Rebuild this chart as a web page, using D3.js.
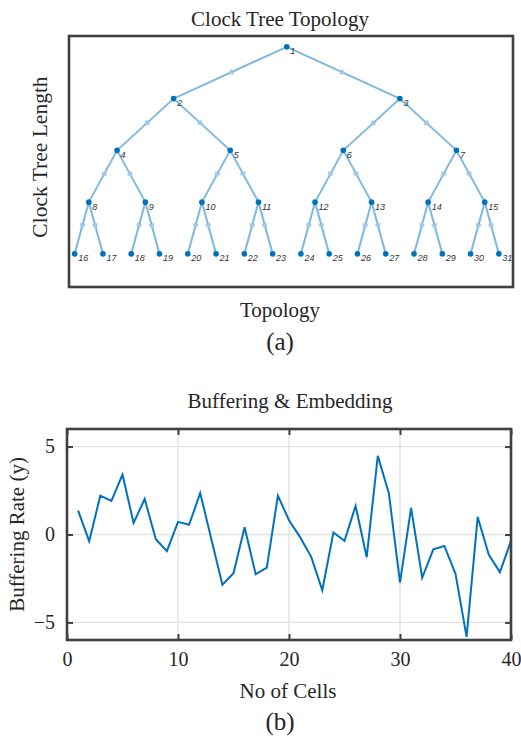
<!DOCTYPE html>
<html>
<head>
<meta charset="utf-8">
<script src="https://cdn.jsdelivr.net/npm/d3@7"></script>
<style>
  html, body { margin: 0; padding: 0; background: #fff; }
  svg { display: block; }
  .serif { font-family: "Liberation Serif", "Times New Roman", serif; fill: #262626; }
  .nodelab { font-family: "Liberation Sans", Arial, sans-serif; font-style: italic; fill: #333; }
</style>
</head>
<body>
<script>
// ---------------- DATA ----------------
// Tree (clock tree topology): node ids and their parents
const nodeIds   = [1,2,3,4,5,6,7,8,9,10,11,12,13,14,15,16,17,18,19,20,21,22,23,24,25,26,27,28,29,30,31];
const parentIds = [null,1,1,2,2,3,3,4,4,5,5,6,6,7,7,8,8,9,9,10,10,11,11,12,12,13,13,14,14,15,15];

// Line chart (buffering & embedding)
const cells = [1,2,3,4,5,6,7,8,9,10,11,12,13,14,15,16,17,18,19,20,21,22,23,24,25,26,27,28,29,30,31,32,33,34,35,36,37,38,39,40];
const rate  = [1.36,-0.38,2.21,1.91,3.41,0.66,2.02,-0.27,-0.95,0.72,0.55,2.36,-0.25,-2.86,-2.2,0.41,-2.26,-1.88,2.21,0.81,
               -0.15,-1.27,-3.17,0.11,-0.36,1.63,-1.29,4.47,2.33,-2.73,1.51,-2.46,-0.84,-0.65,-2.24,-5.82,1.0,-1.16,-2.14,-0.36];
const xTicks = [0,10,20,30,40];
const yTicks = [-5,0,5];

// ---------------- SVG ----------------
const W = 521, H = 738;
const svg = d3.select("body").append("svg").attr("width", W).attr("height", H);

const frameColor = "#404040";
const edgeColor = "#80b8de";
const nodeColor = "#0072bd";

// ===== Chart (a): tree =====
const A = {left: 69, top: 36, right: 513, bottom: 287};
const root = d3.stratify()
  .id((d, i) => String(nodeIds[i]))
  .parentId((d, i) => parentIds[i] == null ? null : String(parentIds[i]))(nodeIds);
// leaves one unit apart, root at x = 0, levels one unit apart (depth)
d3.cluster().nodeSize([1, 1]).separation(() => 1)(root);

const xa = d3.scaleLinear().domain([-7.7, 8.0]).range([A.left, A.right]);
const ya = d3.scaleLinear().domain([-0.21, 4.64]).range([A.top, A.bottom]);

const ga = svg.append("g");
// edges
ga.selectAll("line.edge").data(root.links()).join("line")
  .attr("x1", d => xa(d.source.x)).attr("y1", d => ya(d.source.y))
  .attr("x2", d => xa(d.target.x)).attr("y2", d => ya(d.target.y))
  .attr("stroke", edgeColor).attr("stroke-width", 2);
// arrowheads at midpoints
ga.selectAll("path.arrow").data(root.links()).join("path")
  .attr("d", d => {
    const x1 = xa(d.source.x), y1 = ya(d.source.y), x2 = xa(d.target.x), y2 = ya(d.target.y);
    const L = Math.hypot(x2 - x1, y2 - y1), ux = (x2 - x1) / L, uy = (y2 - y1) / L;
    const mx = x1 + (x2 - x1) * 0.52, my = y1 + (y2 - y1) * 0.52;
    const len = 5, wid = 2.6;
    const bx = mx - ux * len, by = my - uy * len;
    return `M${mx},${my}L${bx - uy * wid},${by + ux * wid}L${bx + uy * wid},${by - ux * wid}Z`;
  })
  .attr("fill", "#a9cfea").attr("stroke", edgeColor).attr("stroke-width", 0.6);
// nodes
ga.selectAll("circle.node").data(root.descendants()).join("circle")
  .attr("cx", d => xa(d.x)).attr("cy", d => ya(d.y)).attr("r", 2.8)
  .attr("fill", nodeColor);
ga.selectAll("text.nodelab").data(root.descendants()).join("text")
  .attr("class", "nodelab")
  .attr("x", d => xa(d.x) + 3.5).attr("y", d => ya(d.y) + 7.5)
  .attr("font-size", 9)
  .text(d => d.id);
// frame
svg.append("rect").attr("x", A.left).attr("y", A.top)
  .attr("width", A.right - A.left).attr("height", A.bottom - A.top)
  .attr("fill", "none").attr("stroke", frameColor).attr("stroke-width", 2.6);

svg.append("text").attr("class", "serif").attr("x", 280).attr("y", 26)
  .attr("text-anchor", "middle").attr("font-size", 21).text("Clock Tree Topology");
svg.append("text").attr("class", "serif").attr("transform", "translate(47,157) rotate(-90)")
  .attr("text-anchor", "middle").attr("font-size", 21.5).text("Clock Tree Length");
svg.append("text").attr("class", "serif").attr("x", 280).attr("y", 317)
  .attr("text-anchor", "middle").attr("font-size", 21).text("Topology");
svg.append("text").attr("class", "serif").attr("x", 280).attr("y", 350)
  .attr("text-anchor", "middle").attr("font-size", 25).text("(a)");

// ===== Chart (b): line =====
const B = {left: 67, top: 429, right: 511, bottom: 640};
const xb = d3.scaleLinear().domain([0, 40]).range([B.left, B.right]);
const yb = d3.scaleLinear().domain([-6, 6]).range([B.bottom, B.top]);
const gb = svg.append("g");

// grid
gb.selectAll("line.gx").data(xTicks.filter(t => t > 0 && t < 40)).join("line")
  .attr("x1", d => xb(d)).attr("x2", d => xb(d)).attr("y1", B.top).attr("y2", B.bottom)
  .attr("stroke", "#e3e3e3").attr("stroke-width", 1.4);
gb.selectAll("line.gy").data(yTicks).join("line")
  .attr("y1", d => yb(d)).attr("y2", d => yb(d)).attr("x1", B.left).attr("x2", B.right)
  .attr("stroke", "#e3e3e3").attr("stroke-width", 1.4);

// line
gb.append("path").datum(cells.map((c, i) => [c, rate[i]]))
  .attr("d", d3.line().x(d => xb(d[0])).y(d => yb(d[1])))
  .attr("fill", "none").attr("stroke", nodeColor).attr("stroke-width", 2).attr("stroke-linejoin", "miter");

// axes with inward ticks (mirrored)
const tickLen = 6;
const axB = gb.append("g").attr("transform", `translate(0,${B.bottom})`)
  .call(d3.axisBottom(xb).tickValues(xTicks).tickSize(-tickLen).tickPadding(tickLen + 6).tickFormat(d3.format("d")));
const axT = gb.append("g").attr("transform", `translate(0,${B.top})`)
  .call(d3.axisTop(xb).tickValues(xTicks).tickSize(-tickLen).tickFormat(""));
const axL = gb.append("g").attr("transform", `translate(${B.left},0)`)
  .call(d3.axisLeft(yb).tickValues(yTicks).tickSize(-tickLen).tickPadding(tickLen + 6).tickFormat(d3.format("d")));
const axR = gb.append("g").attr("transform", `translate(${B.right},0)`)
  .call(d3.axisRight(yb).tickValues(yTicks).tickSize(-tickLen).tickFormat(""));
[axB, axT, axL, axR].forEach(ax => {
  ax.select(".domain").remove();
  ax.selectAll(".tick line").attr("stroke", frameColor).attr("stroke-width", 2);
  ax.selectAll(".tick text").attr("class", "serif").attr("font-size", 20).attr("fill", "#262626");
});
axB.selectAll(".tick text").attr("dy", "0.71em");

gb.append("rect").attr("x", B.left).attr("y", B.top)
  .attr("width", B.right - B.left).attr("height", B.bottom - B.top)
  .attr("fill", "none").attr("stroke", frameColor).attr("stroke-width", 2.6);

svg.append("text").attr("class", "serif").attr("x", 290).attr("y", 408)
  .attr("text-anchor", "middle").attr("font-size", 21).text("Buffering & Embedding");
svg.append("text").attr("class", "serif").attr("transform", "translate(24,534.5) rotate(-90)")
  .attr("text-anchor", "middle").attr("font-size", 21).text("Buffering Rate (y)");
svg.append("text").attr("class", "serif").attr("x", 288).attr("y", 698)
  .attr("text-anchor", "middle").attr("font-size", 21).text("No of Cells");
svg.append("text").attr("class", "serif").attr("x", 280).attr("y", 730)
  .attr("text-anchor", "middle").attr("font-size", 25).text("(b)");
</script>
</body>
</html>
